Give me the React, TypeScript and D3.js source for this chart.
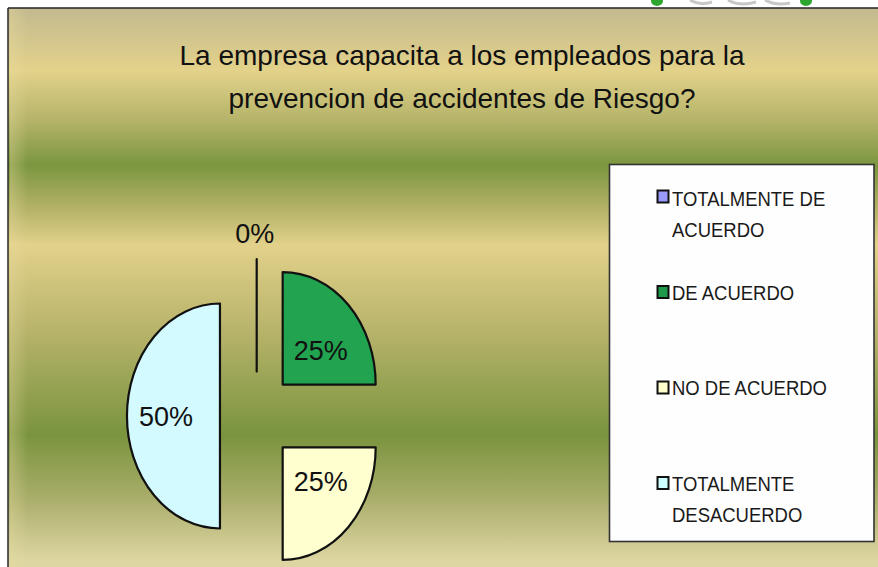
import React from "react";
import * as d3 from "d3";

// ---- data ----
const categories = [
  "TOTALMENTE DE ACUERDO",
  "DE ACUERDO",
  "NO DE ACUERDO",
  "TOTALMENTE DESACUERDO",
];
const values = [0, 25, 25, 50];
const legendLines = [
  ["TOTALMENTE DE", "ACUERDO"],
  ["DE ACUERDO"],
  ["NO DE ACUERDO"],
  ["TOTALMENTE", "DESACUERDO"],
];
const sliceColors = ["#9999ff", "#22a34f", "#ffffd0", "#d2faff"];
const swatchColors = ["#9999ff", "#1e9a4a", "#ffffcc", "#ccffff"];
const titleLines = [
  "La empresa capacita a los empleados para la",
  "prevencion de accidentes de Riesgo?",
];

const W = 878;
const H = 567;
const FONT = "'Liberation Sans', Arial, Helvetica, sans-serif";

// background band stops (offset in px from chart top, colour)
const bgStops: [number, string][] = [
  [0, "#c3b990"],
  [62, "#e3d28a"],
  [110, "#b7b56b"],
  [157, "#7b963f"],
  [200, "#b3b266"],
  [237, "#e2d18a"],
  [320, "#b9b46c"],
  [427, "#7a943e"],
  [490, "#a9ad6a"],
  [552, "#ddd6a2"],
];

export default function App() {
  const cx = 256.7;
  const cy = 416;
  const r = 93;
  const sy = 112.5 / 93;
  const explode = 0.395 * r;

  const pie = d3
    .pie<number>()
    .sort(null)
    .value((d) => d)
    .startAngle(0)
    .endAngle(2 * Math.PI);
  const arcs = pie(values);
  const arc = d3.arc<d3.PieArcDatum<number>>().innerRadius(0).outerRadius(r);

  const chartTop = 8;
  const chartLeft = 8;

  const legendY = [
    [206, 237],
    [300],
    [395],
    [491, 522],
  ];
  const swatchY = [190.5, 286, 381.5, 477];

  return (
    <svg
      width={W}
      height={H}
      style={{ position: "absolute", left: 0, top: 0, display: "block" }}
      xmlns="http://www.w3.org/2000/svg"
    >
      <defs>
        <linearGradient
          id="bg"
          gradientUnits="userSpaceOnUse"
          x1={0}
          y1={chartTop}
          x2={0}
          y2={chartTop + 560}
        >
          {bgStops.map(([o, c], i) => (
            <stop key={i} offset={o / 560} stopColor={c} />
          ))}
        </linearGradient>
        <linearGradient id="edge" x1="0" y1="0" x2="1" y2="0">
          <stop offset="0" stopColor="#e8dca0" stopOpacity={0.35} />
          <stop offset="1" stopColor="#e8dca0" stopOpacity={0} />
        </linearGradient>
      </defs>

      <rect x={0} y={0} width={W} height={H} fill="#ffffff" />

      {/* cropped logo remnants at top */}
      <g>
        <ellipse cx={657} cy={1} rx={6} ry={5} fill="#2ea52e" />
        <ellipse cx={806} cy={1} rx={6} ry={5} fill="#2ea52e" />
        <path d="M690,0 Q700,6 712,2" stroke="#c8c8c8" strokeWidth={3} fill="none" />
        <path d="M728,0 Q740,7 756,2" stroke="#c8c8c8" strokeWidth={3} fill="none" />
        <path d="M765,0 Q775,6 790,3" stroke="#c8c8c8" strokeWidth={3} fill="none" />
      </g>

      {/* chart background */}
      <rect x={chartLeft} y={chartTop} width={W - chartLeft + 2} height={H - chartTop + 2} fill="url(#bg)" />
      <rect x={chartLeft + 2} y={chartTop} width={18} height={H} fill="url(#edge)" />
      <line x1={chartLeft} y1={chartTop} x2={W} y2={chartTop} stroke="#222" strokeWidth={1.6} />
      <line x1={chartLeft} y1={chartTop} x2={chartLeft} y2={H} stroke="#333" strokeWidth={1.6} />

      {/* title */}
      {titleLines.map((t, i) => (
        <text
          key={i}
          x={462}
          y={65 + i * 43}
          textAnchor="middle"
          fontFamily={FONT}
          fontSize={28}
          fill="#111"
        >
          {t}
        </text>
      ))}

      {/* pie */}
      {arcs.map((a, i) => {
        const mid = (a.startAngle + a.endAngle) / 2;
        const ox = cx + Math.sin(mid) * explode;
        const oy = cy - Math.cos(mid) * explode * sy;
        return (
          <g key={categories[i]}>
            <path
              d={arc(a) || ""}
              transform={`translate(${ox},${oy}) scale(1,${sy})`}
              fill={sliceColors[i]}
              stroke="#111"
              strokeWidth={2.2}
              strokeLinejoin="round"
              vectorEffect="non-scaling-stroke"
            />
          </g>
        );
      })}

      {/* labels */}
      {arcs.map((a, i) => {
        const mid = (a.startAngle + a.endAngle) / 2;
        const ox = cx + Math.sin(mid) * explode;
        const oy = cy - Math.cos(mid) * explode * sy;
        let lx: number;
        let ly: number;
        if (a.data === 0) {
          lx = ox - 2;
          ly = oy - r * sy - 26;
        } else {
          lx = ox + Math.sin(mid) * 54;
          ly = oy - Math.cos(mid) * 48 + (Math.cos(mid) > 0.1 ? 0 : 0);
        }
        return (
          <text
            key={"l" + i}
            x={lx}
            y={ly}
            dy="0.36em"
            textAnchor="middle"
            fontFamily={FONT}
            fontSize={27}
            fill="#111"
          >
            {`${a.data}%`}
          </text>
        );
      })}

      {/* legend */}
      <rect x={609.5} y={164.5} width={264.5} height={377} fill="#fefefe" stroke="#333" strokeWidth={1.6} />
      {categories.map((c, i) => (
        <g key={"lg" + c}>
          <rect
            x={657.5}
            y={swatchY[i]}
            width={11}
            height={12}
            fill={swatchColors[i]}
            stroke="#111"
            strokeWidth={2}
          />
          {legendLines[i].map((ln, j) => (
            <text
              key={j}
              transform={`translate(672,${legendY[i][j]}) scale(0.88,1)`}
              fontFamily={FONT}
              fontSize={21}
              fill="#1a1a1a"
            >
              {ln}
            </text>
          ))}
        </g>
      ))}
    </svg>
  );
}
